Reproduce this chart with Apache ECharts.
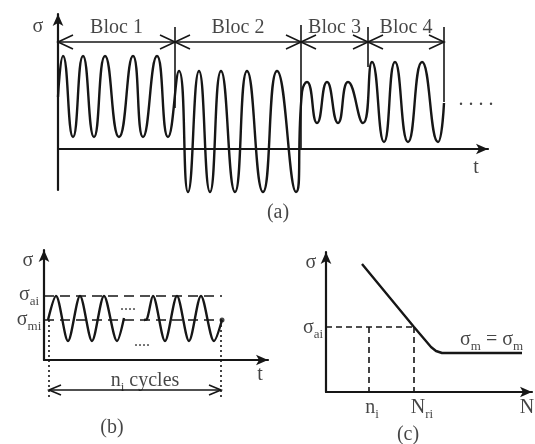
<!DOCTYPE html>
<html>
<head>
<meta charset="utf-8">
<script src="https://cdn.jsdelivr.net/npm/echarts@6/dist/echarts.min.js"></script>
<style>
  html, body { margin: 0; padding: 0; background: #fff; }
  #chart { width: 535px; height: 444px; }
</style>
</head>
<body>
<div id="chart"></div>
<script>
// (a) block loading: turning points [t, sigma] of each bloc
var bloc1 = [[0, 52], [5, 93], [15, 12], [25, 93], [36, 12], [47, 93], [61, 12], [75, 93], [85, 12], [99, 93], [110, 12]];
var bloc2 = [[121, 78], [130, -43], [141, 78], [152, -43], [163, 78], [177, -43], [189, 78], [205, -43], [219, 78], [238, -43]];
var bloc3 = [[244, 57], [249, 67], [259, 26], [269, 67], [280, 26], [290, 67], [305, 26]];
var bloc4 = [[314, 87], [326, 7], [337, 87], [350, 7], [364, 87], [380, 7], [386, 46]];
var blocNames = ['Bloc 1', 'Bloc 2', 'Bloc 3', 'Bloc 4'];
var blocEdges = [0, 117, 243, 310, 386];
var blocEdgeTop = [122, 122, 124, 122, 122];
var blocEdgeBottom = [122, 41, -1, 82, 47];
var blocArrowLevel = 107;

// (b) constant amplitude cycles
var sigmaAi = 64;
var sigmaMi = 40;
var cycles1 = [[4, 40], [12, 64], [24, 19], [36, 64], [48, 19], [60, 64], [73, 19], [80, 42]];
var cycles2 = [[100, 40], [103, 41], [109, 64], [121, 19], [133, 64], [145, 19], [157, 64], [170, 19], [178, 40]];
var cyclesStart = 5, cyclesEnd = 177;

// (c) S-N curve
var snCurve = [[36, 128], [88, 65], [105, 45], [110, 41], [116, 39], [196, 39]];
var niN = 43, nriN = 88, sigmaAiC = 65;

var FONT = 'Liberation Serif';
var INK = '#161616';

function sig(sub) { return '{s|σ}{sub|' + sub + '}'; }

var labelsA = [[-20, 122, '{s|σ}'], [418, -19, '{s|t}'], [418, 49, '{s|. . . .}'], [220, -64, '{s|(a)}']];
blocNames.forEach(function (name, i) {
  labelsA.push([(blocEdges[i] + blocEdges[i + 1]) / 2, 121, '{s|' + name + '}']);
});
var labelsB = [[-16, 99, '{s|σ}'], [-15, 65, sig('ai')], [-15, 40, sig('mi')], [84, 54, '{d|....}'], [98, 18, '{d|....}'],
  [216, -15, '{s|t}'], [101, -21, '{s|n}{sub|i}{s| cycles}'], [68, -68, '{s|(b)}']];
var labelsC = [[-15, 129, '{s|σ}'], [-13, 64, sig('ai')], [46, -16, '{s|n}{sub|i}'], [96, -16, '{s|N}{sub|ri}'],
  [201, -16, '{s|N}'], [82, -43, '{s|(c)}']];
var labelsCLeft = [[134, 52, sig('m') + '{s| = }' + sig('m')]];

var rich = {
  s: { fontFamily: FONT, fontSize: 20, color: INK, lineHeight: 26 },
  sub: { fontFamily: FONT, fontSize: 13, color: INK, lineHeight: 26, verticalAlign: 'bottom' },
  d: { fontFamily: FONT, fontSize: 16, color: INK, lineHeight: 26 }
};

function textSeries(gi, items, pos) {
  return {
    type: 'scatter', xAxisIndex: gi, yAxisIndex: gi, silent: true, clip: false,
    symbolSize: 0.1, itemStyle: { color: 'transparent' },
    data: items.map(function (d) { return { value: [d[0], d[1]], name: d[2] }; }),
    label: { show: true, position: pos || 'inside', distance: 0, formatter: function (p) { return p.name; }, rich: rich }
  };
}

function spanSeries(gi, data, len, half) {
  return {
    type: 'custom', xAxisIndex: gi, yAxisIndex: gi, silent: true, clip: false, data: data,
    renderItem: function (params, api) {
      var a = api.coord([api.value(0), api.value(2)]);
      var b = api.coord([api.value(1), api.value(2)]);
      var st = { stroke: INK, lineWidth: 1.6, fill: null };
      return { type: 'group', children: [
        { type: 'line', shape: { x1: a[0], y1: a[1], x2: b[0], y2: b[1] }, style: st },
        { type: 'polyline', shape: { points: [[a[0] + len, a[1] - half], a, [a[0] + len, a[1] + half]] }, style: st },
        { type: 'polyline', shape: { points: [[b[0] - len, b[1] - half], b, [b[0] - len, b[1] + half]] }, style: st }
      ] };
    }
  };
}

function vSegSeries(gi, data, dash, width) {
  return {
    type: 'custom', xAxisIndex: gi, yAxisIndex: gi, silent: true, clip: false, data: data,
    renderItem: function (params, api) {
      var a = api.coord([api.value(0), api.value(1)]);
      var b = api.coord([api.value(0), api.value(2)]);
      return { type: 'line', shape: { x1: a[0], y1: a[1], x2: b[0], y2: b[1] },
        style: { stroke: INK, lineWidth: width, lineDash: dash } };
    }
  };
}

function lineSeries(gi, data, opts) {
  var s = {
    type: 'line', xAxisIndex: gi, yAxisIndex: gi, silent: true, clip: false, data: data,
    symbol: 'none', lineStyle: { color: INK, width: 2.4 }
  };
  for (var k in opts) s[k] = opts[k];
  return s;
}

function xAx(gi, max) {
  return {
    type: 'value', gridIndex: gi, min: 0, max: max,
    axisLine: { show: true, onZero: true, symbol: ['none', 'arrow'], symbolSize: [8, 12], lineStyle: { color: INK, width: 2.2 } },
    axisTick: { show: false }, axisLabel: { show: false }, splitLine: { show: false }
  };
}
function yAx(gi, min, max) {
  var a = xAx(gi, max);
  a.min = min;
  return a;
}

var wave = bloc1.concat(bloc2, bloc3, bloc4);
var blocSpans = [];
var blocBounds = [];
for (var i = 0; i < blocEdges.length; i++) {
  if (i < blocEdges.length - 1) blocSpans.push([blocEdges[i], blocEdges[i + 1], blocArrowLevel]);
  if (i > 0) blocBounds.push([blocEdges[i], blocEdgeTop[i], blocEdgeBottom[i]]);
}

var chart = echarts.init(document.getElementById('chart'));
chart.setOption({
  animation: false,
  backgroundColor: '#fff',
  grid: [
    { left: 58, right: 47, top: 14, bottom: 254 },
    { left: 44, right: 267, top: 250, bottom: 84 },
    { left: 326, right: 3, top: 252, bottom: 52 }
  ],
  xAxis: [xAx(0, 430), xAx(1, 224), xAx(2, 206)],
  yAxis: [yAx(0, -41, 135), yAx(1, 0, 110), yAx(2, 0, 140)],
  series: [
    // (a)
    lineSeries(0, wave, { smooth: 0.55 }),
    vSegSeries(0, blocBounds, null, 1.6),
    spanSeries(0, blocSpans, 15, 7),
    textSeries(0, labelsA),
    // (b)
    lineSeries(1, [[0, sigmaAi], [178, sigmaAi]], { lineStyle: { color: INK, width: 1.6, type: [10, 6] } }),
    lineSeries(1, [[0, sigmaMi], [178, sigmaMi]], { lineStyle: { color: INK, width: 1.6, type: [10, 6] } }),
    lineSeries(1, cycles1, { smooth: 0.3 }),
    lineSeries(1, cycles2, { smooth: 0.3 }),
    { type: 'scatter', xAxisIndex: 1, yAxisIndex: 1, silent: true, symbolSize: 5, itemStyle: { color: INK },
      data: [cycles2[cycles2.length - 1]] },
    vSegSeries(1, [[cyclesStart, sigmaMi, -37], [cyclesEnd, sigmaMi, -37]], [2, 3], 1.6),
    spanSeries(1, [[cyclesStart, cyclesEnd, -30]], 12, 5),
    textSeries(1, labelsB),
    // (c)
    lineSeries(2, snCurve, {}),
    lineSeries(2, [[0, sigmaAiC], [nriN, sigmaAiC]], { lineStyle: { color: INK, width: 1.6, type: [6, 4] } }),
    vSegSeries(2, [[niN, sigmaAiC, 0], [nriN, sigmaAiC, 0]], [6, 4], 1.6),
    textSeries(2, labelsC),
    textSeries(2, labelsCLeft, 'right')
  ]
});
</script>
</body>
</html>
